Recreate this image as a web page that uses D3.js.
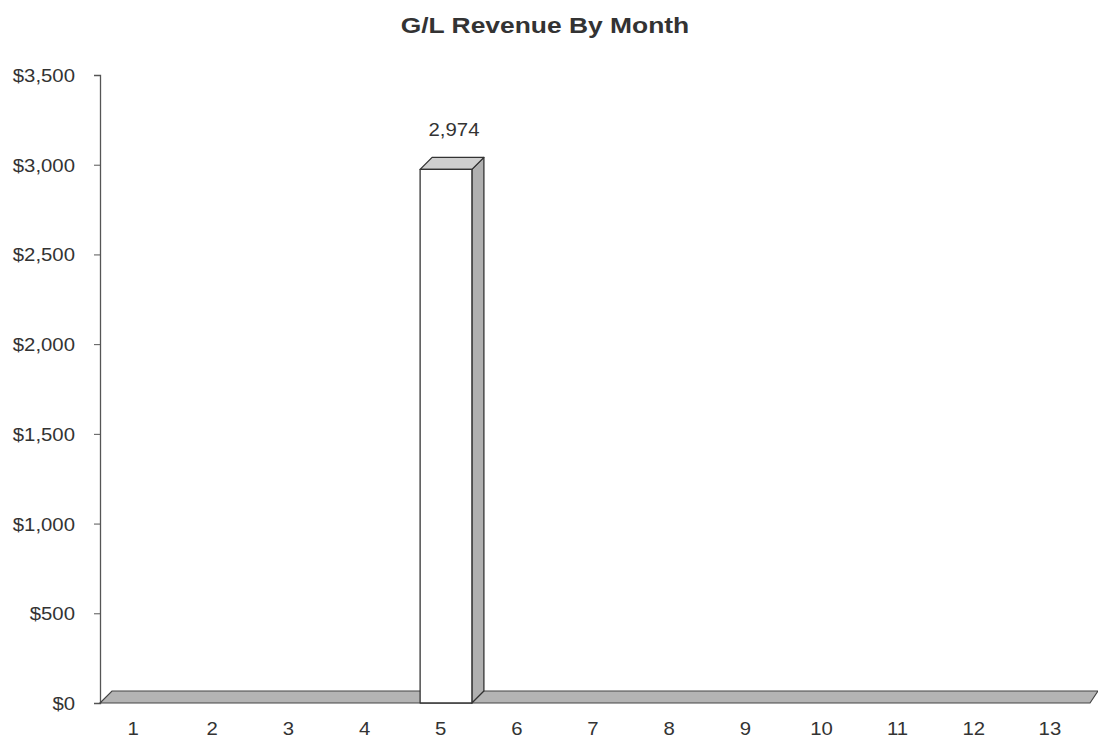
<!DOCTYPE html>
<html><head><meta charset="utf-8">
<script src="https://cdn.jsdelivr.net/npm/d3@7/dist/d3.min.js"></script>
<style>body{margin:0;background:#fff}svg{display:block}text{font-family:"Liberation Sans",Arial,sans-serif;fill:#333}</style>
</head><body><svg id="c" width="1098" height="740"></svg>
<script>
const months = ["1","2","3","4","5","6","7","8","9","10","11","12","13"];
const revenue = [0,0,0,0,2974,0,0,0,0,0,0,0,0];
const yTicks = [0,500,1000,1500,2000,2500,3000,3500];
const title = "G/L Revenue By Month";

(function(){
const svg = d3.select("#c");
const mLeft = 100, mRight = 1090, mTop = 75, mBottom = 703;
const dx = 12, dy = -12;
const stretch = 1.1;
function widen(sel, k) {
  sel.each(function(){
    const len = this.getComputedTextLength();
    d3.select(this).attr("textLength", len * k).attr("lengthAdjust", "spacingAndGlyphs");
  });
}

const x = d3.scaleBand().domain(months).range([mLeft, mRight]).paddingInner(0).paddingOuter(0);
const y = d3.scaleLinear().domain([0, 3500]).range([mBottom, mTop]);

const t = svg.append("text").attr("x", 545).attr("y", 33).attr("text-anchor", "middle")
  .style("font-size", "22px").style("font-weight", "bold").attr("fill", "#333").text(title);
widen(t, 1.2);

// y axis
const yAxis = d3.axisLeft(y).tickValues(yTicks).tickSize(6).tickPadding(19)
  .tickFormat(d => "$" + d3.format(",")(d));
const ga = svg.append("g").attr("transform", `translate(${mLeft},0)`).call(yAxis);
ga.attr("font-family", null).attr("font-size", null);
ga.select(".domain").attr("stroke", "#555").attr("stroke-width", 1.3);
ga.selectAll(".tick line").attr("stroke", "#555");
ga.selectAll(".tick text").style("font-size", "18.5px").attr("fill", "#3a3a3a").attr("dy", "0.35em");
widen(ga.selectAll(".tick text"), stretch);

// floor
const fy = y(0);
svg.append("path")
  .attr("d", `M${mLeft},${fy} L${mLeft+dx},${fy+dy} L${mRight+dx - 4},${fy+dy} L${mRight},${fy} Z`)
  .attr("fill", "#b4b4b4").attr("stroke", "#444").attr("stroke-width", 1.2);

// bars
const bw = x.bandwidth() * 0.68;
const off = 15.5;
months.forEach((m, i) => {
  const v = revenue[i];
  if (!v) return;
  const x0 = x(m) + off, x1 = x0 + bw;
  const yt = y(v), yb = y(0);
  const g = svg.append("g").attr("stroke", "#333").attr("stroke-width", 1.3).attr("stroke-linejoin", "round");
  g.append("path").attr("d", `M${x1},${yb} L${x1+dx},${yb+dy} L${x1+dx},${yt+dy} L${x1},${yt} Z`).attr("fill", "#b0b0b0");
  g.append("path").attr("d", `M${x0},${yt} L${x0+dx},${yt+dy} L${x1+dx},${yt+dy} L${x1},${yt} Z`).attr("fill", "#cfcfcf");
  g.append("rect").attr("x", x0).attr("y", yt).attr("width", bw).attr("height", yb - yt).attr("fill", "#fff");
  const lt = svg.append("text").attr("x", x0 + bw/2 + 8).attr("y", yt + dy - 21).attr("text-anchor", "middle")
    .style("font-size", "18.5px").attr("fill", "#3a3a3a").text(d3.format(",")(v));
  widen(lt, stretch);
});

// x labels
const xl = svg.append("g").selectAll("text").data(months).join("text")
  .attr("x", (d, i) => x(d) + x.bandwidth()/2 - 2 - (i === 0 ? 3 : 0)).attr("y", 735)
  .attr("text-anchor", "middle").style("font-size", "18.5px").attr("fill", "#3a3a3a").text(d => d);
widen(xl, stretch);
})();
</script></body></html>
